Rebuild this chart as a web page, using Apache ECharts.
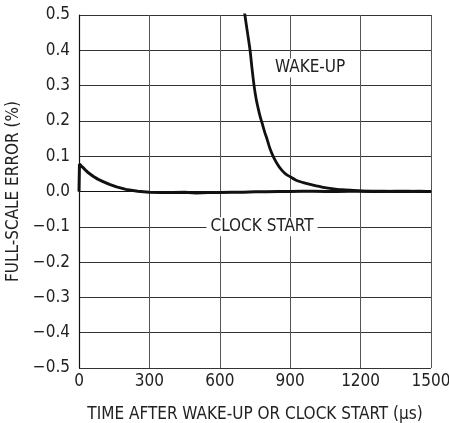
<!DOCTYPE html>
<html style="height:100%">
<head>
    <meta charset="utf-8">
    <title>Full-scale error</title>
<script src="https://cdn.jsdelivr.net/npm/echarts@6/dist/echarts.min.js"></script>
</head>
<body style="height:100%;width:100%;margin:0;background:#fff;">
    <div id="main" style="width:449px;height:423px;margin:0"></div>
    <script type="text/javascript">
        // values: [time (us), error (%)]
        var clockStart = [
            [0, 0], [2, 0.078], [10, 0.072], [20, 0.066], [30, 0.059], [40, 0.053],
            [50, 0.048], [60, 0.043], [80, 0.035], [100, 0.029], [130, 0.020],
            [160, 0.013], [200, 0.006], [250, 0.001], [300, -0.002], [350, -0.003],
            [400, -0.003], [450, -0.002], [500, -0.004], [550, -0.003], [600, -0.003],
            [650, -0.002], [700, -0.002], [750, -0.001], [800, -0.001], [850, 0],
            [900, 0], [950, 0.001], [1000, 0.001], [1050, 0], [1100, 0], [1150, 0.001],
            [1200, 0.001], [1250, 0], [1300, 0], [1350, 0.001], [1400, 0.001],
            [1450, 0], [1500, 0]
        ];
        var wakeUp = [
            [700, 0.54], [707, 0.5], [718, 0.45], [729, 0.4], [737, 0.35],
            [746, 0.3], [755, 0.262], [764, 0.234], [772, 0.212], [781, 0.192],
            [791, 0.169], [802, 0.147], [814, 0.121], [828, 0.099], [845, 0.078],
            [863, 0.061], [880, 0.05], [899, 0.042], [925, 0.032], [956, 0.025],
            [985, 0.02], [1012, 0.016], [1040, 0.012], [1069, 0.009], [1120, 0.005],
            [1170, 0.003], [1225, 0.001], [1260, 0.001], [1300, 0.001], [1350, 0],
            [1400, 0], [1450, 0.001], [1500, 0]
        ];
        var xTicks = [0, 300, 600, 900, 1200, 1500];
        var yTicks = [-0.5, -0.4, -0.3, -0.2, -0.1, 0, 0.1, 0.2, 0.3, 0.4, 0.5];
        var curveLabels = [
            {text: 'WAKE-UP', coord: [985, 0.35]},
            {text: 'CLOCK START', coord: [780, -0.1]}
        ];

        var font = '"Liberation Sans Narrow", "DejaVu Sans Condensed", sans-serif';
        var myChart = echarts.init(document.getElementById('main'));
        myChart.setOption({
            animation: false,
            grid: {left: 79, right: 18, top: 15, bottom: 55, outerBoundsMode: 'none'},
            xAxis: {
                type: 'value',
                min: xTicks[0], max: xTicks[xTicks.length - 1], interval: 300,
                name: 'TIME AFTER WAKE-UP OR CLOCK START (\u00b5s)',
                nameLocation: 'middle', nameGap: 38,
                nameTextStyle: {fontFamily: font, fontSize: 17, color: '#222'},
                axisLine: {lineStyle: {color: '#111', width: 1.2}},
                axisTick: {show: false},
                axisLabel: {
                    fontFamily: font, fontSize: 17, color: '#222', margin: 5,
                    formatter: function (v) { return String(v); }
                },
                splitLine: {lineStyle: {color: '#555', width: 1}}
            },
            yAxis: {
                type: 'value',
                min: yTicks[0], max: yTicks[yTicks.length - 1], interval: 0.1,
                name: 'FULL-SCALE ERROR (%)',
                nameLocation: 'middle', nameGap: 53,
                nameTextStyle: {fontFamily: font, fontSize: 17, color: '#222'},
                axisLine: {show: true, onZero: false, lineStyle: {color: '#111', width: 1.2}},
                axisTick: {show: false},
                axisLabel: {
                    fontFamily: font, fontSize: 17, color: '#222', margin: 9,
                    formatter: function (v) {
                        return v.toFixed(1).replace('-', '\u2212');
                    }
                },
                splitLine: {lineStyle: {color: '#333', width: 1}}
            },
            series: [
                {
                    type: 'line', data: clockStart, showSymbol: false, symbol: 'none',
                    lineStyle: {color: '#111', width: 3},
                    markPoint: {
                        symbol: 'rect', symbolSize: 0,
                        label: {
                            show: true, formatter: curveLabels[1].text, position: 'inside',
                            fontFamily: font, fontSize: 17, color: '#222',
                            backgroundColor: '#fff', padding: [1, 4]
                        },
                        data: [{coord: curveLabels[1].coord}]
                    }
                },
                {
                    type: 'line', data: wakeUp, showSymbol: false, symbol: 'none',
                    smooth: 0.3,
                    lineStyle: {color: '#111', width: 2.8},
                    markPoint: {
                        symbol: 'rect', symbolSize: 0,
                        label: {
                            show: true, formatter: curveLabels[0].text, position: 'inside',
                            fontFamily: font, fontSize: 17, color: '#222',
                            backgroundColor: '#fff', padding: [1, 3]
                        },
                        data: [{coord: curveLabels[0].coord}]
                    }
                }
            ]
        });
    </script>
</body>
</html>
